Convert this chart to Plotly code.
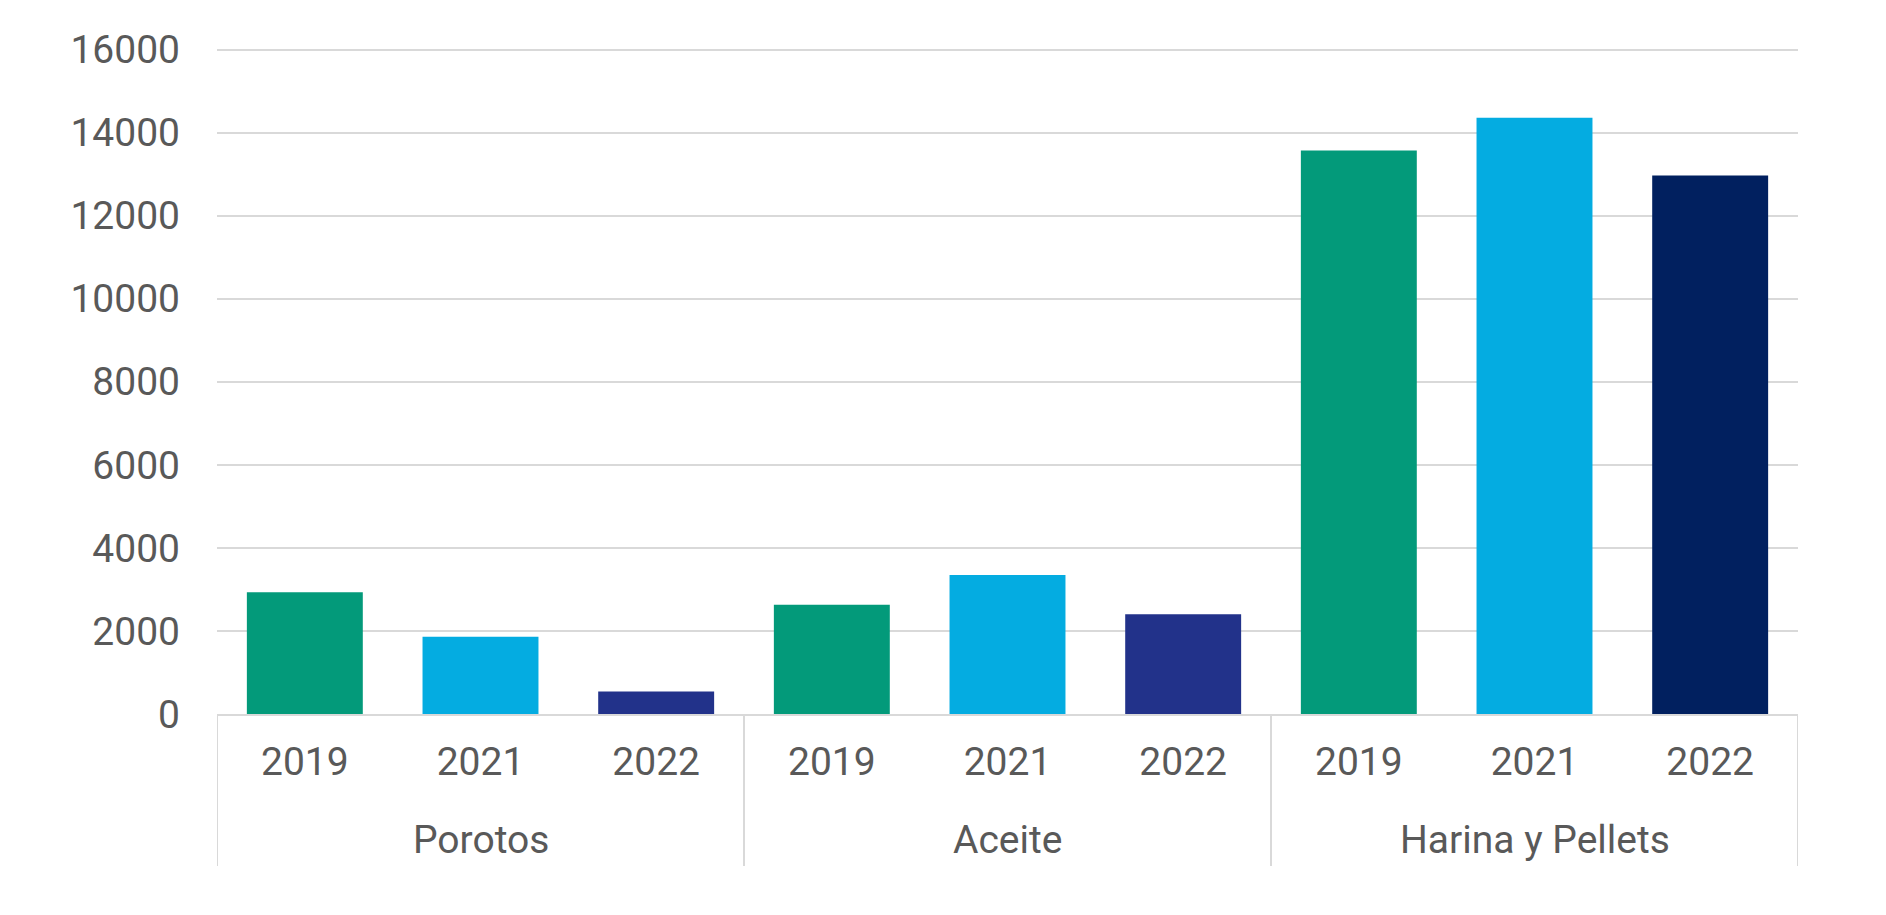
import plotly.graph_objects as go

groups = ["Porotos", "Aceite", "Harina y Pellets"]
years = ["2019", "2021", "2022"]
porotos = [2930, 1860, 540]
aceite = [2630, 3350, 2400]
harina = [13570, 14360, 12970]
colors_porotos = ["#039A7A", "#04ACE1", "#22328A"]
colors_aceite = ["#039A7A", "#04ACE1", "#22328A"]
colors_harina = ["#039A7A", "#04ACE1", "#01205F"]
y_ticks = [0, 2000, 4000, 6000, 8000, 10000, 12000, 14000, 16000]
y_ticktext = [str(v) for v in y_ticks]

values = porotos + aceite + harina
colors = colors_porotos + colors_aceite + colors_harina
n_per = len(years)
xpos = list(range(len(values)))
ticktext = years * len(groups)

fig = go.Figure()
fig.add_trace(go.Bar(x=xpos, y=values, marker=dict(color=colors, line=dict(width=0)),
                     showlegend=False, hoverinfo="y"))

font_color = "#595959"
font_family = "Roboto, Arial, sans-serif"

# page body has an 8px margin
W, H = 1870, 899
ml, mr, mt, mb = 209, 80, 40, 193
plot_h = H - mt - mb
axis_y = H - mb

for gi, g in enumerate(groups):
    center = gi * n_per + (n_per - 1) / 2
    fig.add_annotation(x=center, y=-(831.5 - axis_y) / plot_h, xref="x", yref="paper",
                       text=g, showarrow=False, yanchor="middle",
                       font=dict(size=39, color=font_color, family=font_family))

box_bottom = -(858 - axis_y) / plot_h
for k in range(len(groups) + 1):
    xd = k * n_per - 0.5
    fig.add_shape(type="line", x0=xd, x1=xd, y0=0, y1=box_bottom, xref="x", yref="paper",
                  line=dict(color="#D9D9D9", width=2))

fig.update_layout(
    width=W, height=H,
    margin=dict(l=ml, r=mr, t=mt, b=mb),
    plot_bgcolor="white", paper_bgcolor="white",
    bargap=0.34,
    font=dict(family=font_family, color=font_color, size=39),
)
fig.update_xaxes(range=[-0.5, len(values) - 0.5], tickmode="array", tickvals=xpos, ticktext=ticktext,
                 showgrid=False, showline=True, linecolor="#D9D9D9", linewidth=2,
                 ticks="", ticklabelstandoff=12, zeroline=False,
                 tickfont=dict(size=39, color=font_color, family=font_family))
fig.update_yaxes(range=[0, 16040], tickmode="array", tickvals=y_ticks, ticktext=y_ticktext,
                 showgrid=True, gridcolor="#D9D9D9", gridwidth=2, zeroline=False,
                 showline=False, ticks="", ticklabelstandoff=36,
                 tickfont=dict(size=39, color=font_color, family=font_family))

fig.write_html("out.html")
